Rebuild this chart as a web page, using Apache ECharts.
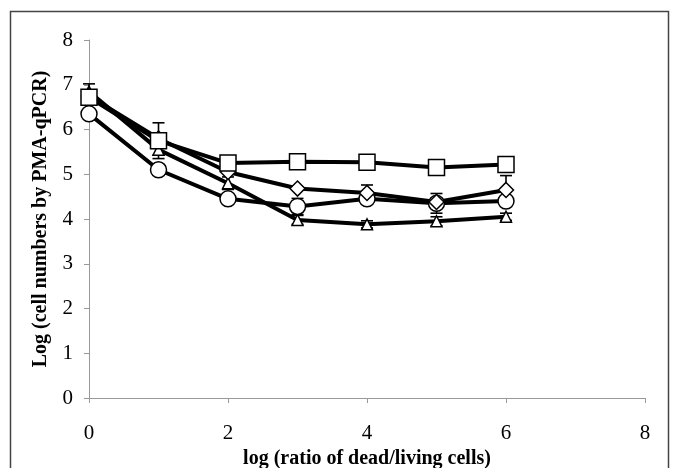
<!DOCTYPE html>
<html><head><meta charset="utf-8">
<script src="https://cdn.jsdelivr.net/npm/echarts@6/dist/echarts.min.js"></script>
<style>html,body{margin:0;padding:0;background:#fff}#c{width:673px;height:468px}</style>
</head><body><div id="c"></div>
<script>
var xValues = [0, 1, 2, 3, 4, 5, 6];
var squareVals   = [6.72, 5.75, 5.25, 5.28, 5.27, 5.15, 5.22];
var diamondVals  = [6.75, 5.80, 5.05, 4.68, 4.58, 4.38, 4.65];
var circleVals   = [6.35, 5.10, 4.45, 4.28, 4.45, 4.35, 4.40];
var triangleVals = [6.85, 5.55, 4.80, 3.98, 3.88, 3.95, 4.05];
var squareErr   = [0, 0.40, 0, 0, 0, 0, 0];
var diamondErr  = [0, 0, 0, 0, 0.18, 0, 0.32];
var circleErr   = [0, 0, 0, 0.18, 0, 0.22, 0];
var triangleErr = [0.17, 0.12, 0.14, 0.10, 0.08, 0.10, 0.08];
var xTicks = [0, 2, 4, 6, 8];
var yTicks = [0, 1, 2, 3, 4, 5, 6, 7, 8];

var FONT = 'Liberation Serif';
function pairs(v){ return xValues.map(function(x,i){return [x, v[i]];}); }
function errData(v, e){ return xValues.map(function(x,i){return [x, v[i]-e[i], v[i]+e[i], e[i]];}).filter(function(d){return d[3]>0;}); }
function errSeries(v, e){
  return {
    type:'custom', z:1, data: errData(v,e),
    renderItem: function(params, api){
      var lo = api.coord([api.value(0), api.value(1)]);
      var hi = api.coord([api.value(0), api.value(2)]);
      var w = 6;
      var st = {stroke:'#000', lineWidth:1.6};
      return {type:'group', children:[
        {type:'line', shape:{x1:lo[0],y1:lo[1],x2:hi[0],y2:hi[1]}, style:st},
        {type:'line', shape:{x1:lo[0]-w,y1:lo[1],x2:lo[0]+w,y2:lo[1]}, style:st},
        {type:'line', shape:{x1:hi[0]-w,y1:hi[1],x2:hi[0]+w,y2:hi[1]}, style:st}
      ]};
    }
  };
}
function lineSeries(v, sym, size){
  return {
    type:'line', z:2, data: pairs(v), symbol: sym, symbolSize: size,
    lineStyle:{color:'#000', width:4},
    itemStyle:{color:'#fff', borderColor:'#000', borderWidth:1.5},
    emphasis:{disabled:true}, animation:false
  };
}
var chart = echarts.init(document.getElementById('c'));
chart.setOption({
  animation:false,
  backgroundColor:'#fff',
  graphic:[{type:'rect', shape:{x:10.5, y:11.5, width:658, height:480}, style:{fill:'none', stroke:'#444', lineWidth:1.5}, silent:true}],
  grid:{left:89, right:28, top:40, bottom:70, outerBoundsMode:'none', containLabel:false},
  xAxis:{
    type:'value', min:0, max:8, interval:2,
    name:'log (ratio of dead/living cells)', nameLocation:'middle', nameGap:45,
    nameTextStyle:{fontFamily:FONT, fontWeight:'bold', fontSize:20, color:'#000'},
    axisLine:{lineStyle:{color:'#999', width:1}},
    axisTick:{show:true, length:5, lineStyle:{color:'#999'}},
    axisLabel:{fontFamily:FONT, fontSize:21, color:'#000', margin:25},
    splitLine:{show:false}
  },
  yAxis:{
    type:'value', min:0, max:8, interval:1,
    name:'Log (cell numbers by PMA-qPCR)', nameLocation:'middle', nameGap:38,
    nameTextStyle:{fontFamily:FONT, fontWeight:'bold', fontSize:20, color:'#000'},
    axisLine:{show:true, lineStyle:{color:'#999', width:1}},
    axisTick:{show:true, length:5, lineStyle:{color:'#999'}},
    axisLabel:{fontFamily:FONT, fontSize:21, color:'#000', margin:16},
    splitLine:{show:false}
  },
  series:[
    errSeries(squareVals, squareErr),
    errSeries(diamondVals, diamondErr),
    errSeries(circleVals, circleErr),
    errSeries(triangleVals, triangleErr),
    lineSeries(triangleVals, 'triangle', 11),
    lineSeries(circleVals, 'circle', 16),
    lineSeries(diamondVals, 'diamond', 15),
    lineSeries(squareVals, 'rect', 16)
  ]
});
</script></body></html>
